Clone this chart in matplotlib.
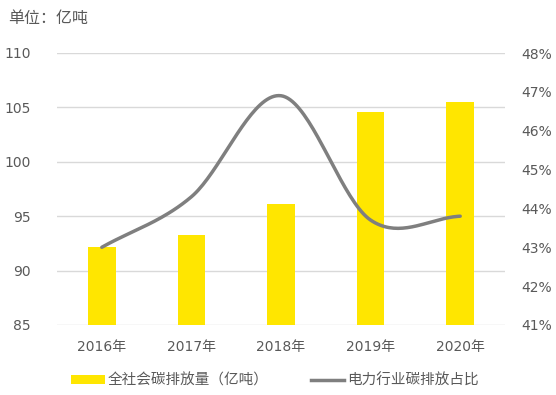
import numpy as np
import matplotlib
matplotlib.use('Agg')
import matplotlib.pyplot as plt
from matplotlib.patches import Patch
from matplotlib.lines import Line2D

# DejaVu for the digits, Noto CJK picks up the Chinese glyphs
plt.rcParams['font.family'] = ['DejaVu Sans', 'Noto Sans CJK SC']

years = ['2016年', '2017年', '2018年', '2019年', '2020年']
emissions = [92.2, 93.3, 96.1, 104.6, 105.5]      # 全社会碳排放量（亿吨）
power_share = [43.0, 44.3, 46.9, 43.7, 43.8]      # 电力行业碳排放占比 (%)
left_ticks = [85, 90, 95, 100, 105, 110]
right_ticks = [41, 42, 43, 44, 45, 46, 47, 48]

BAR = '#FFE600'
LINE = '#7F7F7F'
TXT = '#595959'


def smooth(xs, ys, n=40):
    # Excel-like smoothed line (Catmull-Rom as cubic Bezier)
    xs = np.asarray(xs, float)
    ys = np.asarray(ys, float)
    px, py = [], []
    m = len(xs)
    for i in range(m - 1):
        p0 = i - 1 if i > 0 else i
        p3 = i + 2 if i + 2 < m else i + 1
        tx1 = (xs[i + 1] - xs[p0]) / (2 if i > 0 else 1)
        ty1 = (ys[i + 1] - ys[p0]) / (2 if i > 0 else 1)
        tx2 = (xs[p3] - xs[i]) / (2 if i + 2 < m else 1)
        ty2 = (ys[p3] - ys[i]) / (2 if i + 2 < m else 1)
        c1 = (xs[i] + tx1 / 3, ys[i] + ty1 / 3)
        c2 = (xs[i + 1] - tx2 / 3, ys[i + 1] - ty2 / 3)
        t = np.linspace(0, 1, n)
        bx = (1 - t) ** 3 * xs[i] + 3 * (1 - t) ** 2 * t * c1[0] + 3 * (1 - t) * t ** 2 * c2[0] + t ** 3 * xs[i + 1]
        by = (1 - t) ** 3 * ys[i] + 3 * (1 - t) ** 2 * t * c1[1] + 3 * (1 - t) * t ** 2 * c2[1] + t ** 3 * ys[i + 1]
        px.extend(bx)
        py.extend(by)
    return np.array(px), np.array(py)


fig = plt.figure(figsize=(5.56, 3.95), dpi=100)
ax = fig.add_axes([57 / 556, 1 - 325 / 395, 448 / 556, 272 / 395])
x = np.arange(len(years))

ax.bar(x, emissions, width=0.31, color=BAR, zorder=2)
ax.set_ylim(85, 110)
ax.set_xlim(-0.5, len(years) - 0.5)
ax.set_yticks(left_ticks)
ax.set_xticks(x)
ax.set_xticklabels(years)
ax.grid(axis='y', color='#D9D9D9', linewidth=1, zorder=0)
for s in ax.spines.values():
    s.set_visible(False)
ax.tick_params(axis='y', length=0, pad=19, labelsize=10, labelcolor=TXT)
ax.tick_params(axis='x', length=0, pad=11, labelsize=10, labelcolor=TXT)

ax2 = ax.twinx()
sx, sy = smooth(x, power_share)
ax2.plot(sx, sy, color=LINE, linewidth=2.5, solid_capstyle='round', zorder=3)
ax2.set_ylim(41, 48)
ax2.set_yticks(right_ticks)
ax2.set_yticklabels([f'{v}%' for v in right_ticks])
for s in ax2.spines.values():
    s.set_visible(False)
ax2.tick_params(axis='y', length=0, pad=12, labelsize=10, labelcolor=TXT)

fig.text(8 / 556, 1 - 18 / 395, '单位：亿吨', fontsize=11.5, color=TXT, va='center', ha='left')

handles = [Patch(facecolor=BAR, edgecolor='none', label='全社会碳排放量（亿吨）'),
           Line2D([0], [0], color=LINE, linewidth=2.5, label='电力行业碳排放占比')]
fig.legend(handles=handles, loc='center left', bbox_to_anchor=(58 / 556, 1 - 380 / 395), ncol=2,
           frameon=False, fontsize=10.5, labelcolor=TXT, handlelength=2.3, handleheight=0.6,
           handletextpad=0.2, columnspacing=2.9)

fig.savefig('out.png', dpi=100)
